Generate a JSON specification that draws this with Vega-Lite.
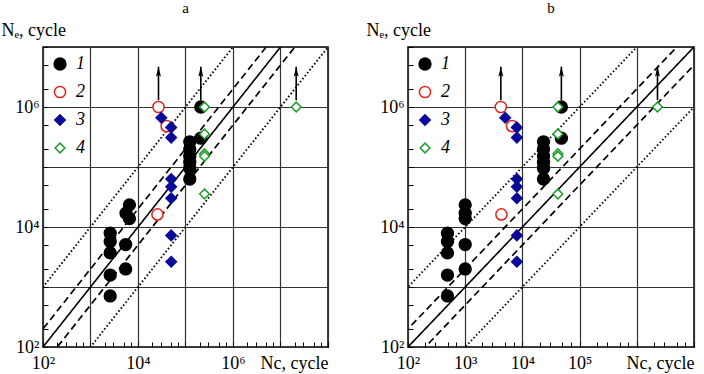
{
  "$schema": "https://vega.github.io/schema/vega-lite/v6.json",
  "padding": {"left": 0, "top": 0, "right": 4, "bottom": 0},
  "background": "white",
  "spacing": 35,
  "config": {
    "font": "Liberation Serif, Times New Roman, serif",
    "view": {"stroke": "black", "strokeWidth": 1.5},
    "axis": {
      "domain": false,
      "grid": true,
      "gridColor": "#333333",
      "gridWidth": 1.2,
      "gridOpacity": {"condition": {"test": "abs(log(datum.value) / LN10 - round(log(datum.value) / LN10)) < 0.000001", "value": 1}, "value": 0},
      "ticks": true,
      "tickColor": "black",
      "tickSize": -5,
      "tickWidth": 1,
      "labelFont": "Liberation Serif, Times New Roman, serif",
      "labelFontSize": 18,
      "labelColor": "black",
      "labelOverlap": false,
      "labelFlush": false,
      "titleFont": "Liberation Serif, Times New Roman, serif",
      "titleFontSize": 18,
      "titleFontWeight": "normal",
      "titleColor": "black"
    },
    "legend": {
      "orient": "top-left",
      "offset": 8,
      "padding": 0,
      "rowPadding": 10,
      "labelFont": "Liberation Serif, Times New Roman, serif",
      "labelFontSize": 18,
      "labelFontStyle": "italic",
      "labelColor": "black",
      "labelOffset": 7,
      "symbolStrokeWidth": 1.5
    },
    "title": {"font": "Liberation Serif, Times New Roman, serif", "fontSize": 15, "fontWeight": "normal", "color": "black", "offset": 5}
  },
  "datasets": {
    "obs": [
      {"series": "1", "nc_a": 2600, "nc_b": 490, "ne": 7900},
      {"series": "1", "nc_a": 2600, "nc_b": 490, "ne": 5750},
      {"series": "1", "nc_a": 2600, "nc_b": 490, "ne": 3700},
      {"series": "1", "nc_a": 2600, "nc_b": 490, "ne": 1580},
      {"series": "1", "nc_a": 2600, "nc_b": 490, "ne": 710},
      {"series": "1", "nc_a": 5500, "nc_b": 1000, "ne": 5100},
      {"series": "1", "nc_a": 5500, "nc_b": 1000, "ne": 2000},
      {"series": "1", "nc_a": 6600, "nc_b": 1000, "ne": 23400},
      {"series": "1", "nc_a": 5600, "nc_b": 1000, "ne": 17000},
      {"series": "1", "nc_a": 6600, "nc_b": 1000, "ne": 13800},
      {"series": "1", "nc_a": 210000, "nc_b": 48000, "ne": 1000000},
      {"series": "1", "nc_a": 210000, "nc_b": 48000, "ne": 302000},
      {"series": "1", "nc_a": 123000, "nc_b": 23400, "ne": 263000},
      {"series": "1", "nc_a": 123000, "nc_b": 23400, "ne": 200000},
      {"series": "1", "nc_a": 123000, "nc_b": 23400, "ne": 151000},
      {"series": "1", "nc_a": 123000, "nc_b": 23400, "ne": 120000},
      {"series": "1", "nc_a": 123000, "nc_b": 23400, "ne": 95500},
      {"series": "1", "nc_a": 123000, "nc_b": 23400, "ne": 63000},
      {"series": "2", "nc_a": 27000, "nc_b": 4200, "ne": 1000000},
      {"series": "2", "nc_a": 40000, "nc_b": 6600, "ne": 479000},
      {"series": "2", "nc_a": 25700, "nc_b": 4300, "ne": 16200},
      {"series": "3", "nc_a": 31000, "nc_b": 5000, "ne": 661000},
      {"series": "3", "nc_a": 50000, "nc_b": 8000, "ne": 457000},
      {"series": "3", "nc_a": 50000, "nc_b": 8000, "ne": 309000},
      {"series": "3", "nc_a": 50000, "nc_b": 8000, "ne": 63000},
      {"series": "3", "nc_a": 50000, "nc_b": 8000, "ne": 46800},
      {"series": "3", "nc_a": 50000, "nc_b": 8000, "ne": 30200},
      {"series": "3", "nc_a": 50000, "nc_b": 8000, "ne": 7240},
      {"series": "3", "nc_a": 50000, "nc_b": 8000, "ne": 2630},
      {"series": "4", "nc_a": 251000, "nc_b": 41700, "ne": 1000000},
      {"series": "4", "nc_a": 251000, "nc_b": 41700, "ne": 355000},
      {"series": "4", "nc_a": 251000, "nc_b": 41700, "ne": 166000},
      {"series": "4", "nc_a": 251000, "nc_b": 41700, "ne": 151000},
      {"series": "4", "nc_a": 251000, "nc_b": 41700, "ne": 35500},
      {"series": "4", "nc_a": 21400000, "nc_b": 2300000, "ne": 1000000}
    ],
    "refs": [
      {"ref": "r1", "style": "solid", "nc": 10, "ne": 10},
      {"ref": "r1", "style": "solid", "nc": 1000000000, "ne": 1000000000},
      {"ref": "r2", "style": "dashed", "nc": 10, "ne": 20},
      {"ref": "r2", "style": "dashed", "nc": 1000000000, "ne": 2000000000},
      {"ref": "r3", "style": "dashed", "nc": 20, "ne": 10},
      {"ref": "r3", "style": "dashed", "nc": 2000000000, "ne": 1000000000},
      {"ref": "r4", "style": "dotted", "nc": 10, "ne": 100},
      {"ref": "r4", "style": "dotted", "nc": 1000000000, "ne": 10000000000},
      {"ref": "r5", "style": "dotted", "nc": 100, "ne": 10},
      {"ref": "r5", "style": "dotted", "nc": 10000000000, "ne": 1000000000}
    ],
    "runouts": [
      {"nc_a": 27000, "nc_b": 4200, "lo": 1300000, "hi": 4700000},
      {"nc_a": 210000, "nc_b": 48000, "lo": 1300000, "hi": 4700000},
      {"nc_a": 21400000, "nc_b": 2300000, "lo": 1300000, "hi": 4700000}
    ]
  },
  "hconcat": [
    {
      "width": 285,
      "height": 300,
      "title": "a",
      "layer": [
        {
          "data": {"name": "refs"},
          "mark": {"type": "line", "clip": true, "color": "black"},
          "encoding": {
            "x": {
              "field": "nc", "type": "quantitative",
              "scale": {"type": "log", "domain": [100, 100000000], "nice": false},
              "axis": {
                "values": [100, 200, 300, 500, 700, 1000, 2000, 3000, 5000, 7000, 10000, 20000, 30000, 50000, 70000, 100000, 200000, 300000, 500000, 700000, 1000000, 2000000, 3000000, 5000000, 7000000, 10000000, 20000000, 30000000, 50000000, 70000000, 100000000],
                "labelExpr": "datum.value == 100 ? '10²' : datum.value == 10000 ? '10⁴' : datum.value == 1000000 ? '10⁶' : ''",
                "labelPadding": 12,
                "title": "Nc, cycle",
                "titleX": 285, "titleY": 21, "titleAlign": "right", "titleBaseline": "alphabetic", "titleAnchor": null
              }
            },
            "y": {
              "field": "ne", "type": "quantitative",
              "scale": {"type": "log", "domain": [100, 10000000], "nice": false},
              "axis": {
                "values": [100, 200, 500, 1000, 2000, 5000, 10000, 20000, 50000, 100000, 200000, 500000, 1000000, 2000000, 5000000, 10000000],
                "labelExpr": "datum.value == 100 ? '10²' : datum.value == 10000 ? '10⁴' : datum.value == 1000000 ? '10⁶' : ''",
                "labelPadding": 9,
                "title": "Nₑ, cycle",
                "titleAngle": 0, "titleX": -42, "titleY": -12, "titleAlign": "left", "titleBaseline": "alphabetic", "titleAnchor": null
              }
            },
            "detail": {"field": "ref"},
            "strokeDash": {"field": "style", "type": "nominal", "scale": {"domain": ["solid", "dashed", "dotted"], "range": [[1, 0], [7, 4], [1.6, 2.2]]}, "legend": null},
            "strokeWidth": {"field": "style", "type": "nominal", "scale": {"domain": ["solid", "dashed", "dotted"], "range": [1.6, 1.8, 2.1]}, "legend": null}
          }
        },
        {
          "data": {"name": "runouts"},
          "mark": {"type": "rule", "color": "black", "strokeWidth": 1.6},
          "encoding": {
            "x": {"field": "nc_a", "type": "quantitative"},
            "y": {"field": "lo", "type": "quantitative"},
            "y2": {"field": "hi"}
          }
        },
        {
          "data": {"name": "runouts"},
          "mark": {"type": "point", "shape": "M0,0L0.5,2L0,1.6L-0.5,2Z", "size": 100, "filled": true, "color": "black", "opacity": 1},
          "encoding": {
            "x": {"field": "nc_a", "type": "quantitative"},
            "y": {"field": "hi", "type": "quantitative"}
          }
        },
        {
          "data": {"name": "obs"},
          "mark": {"type": "point", "strokeWidth": 1.5, "opacity": 1},
          "encoding": {
            "x": {"field": "nc_a", "type": "quantitative"},
            "y": {"field": "ne", "type": "quantitative"},
            "shape": {"field": "series", "type": "nominal", "scale": {"domain": ["1", "2", "3", "4"], "range": ["circle", "circle", "diamond", "diamond"]}, "legend": {"title": null}},
            "fill": {"field": "series", "type": "nominal", "scale": {"domain": ["1", "2", "3", "4"], "range": ["#000000", "#ffffff", "#0a0a9a", "#ffffff"]}, "legend": {"title": null}},
            "stroke": {"field": "series", "type": "nominal", "scale": {"domain": ["1", "2", "3", "4"], "range": ["#000000", "#e2231a", "#0a0a9a", "#1f9e2a"]}, "legend": {"title": null}},
            "size": {"field": "series", "type": "nominal", "scale": {"domain": ["1", "2", "3", "4"], "range": [140, 95, 140, 110]}, "legend": {"title": null}}
          }
        }
      ]
    },
    {
      "width": 286,
      "height": 300,
      "title": "b",
      "layer": [
        {
          "data": {"name": "refs"},
          "mark": {"type": "line", "clip": true, "color": "black"},
          "encoding": {
            "x": {
              "field": "nc", "type": "quantitative",
              "scale": {"type": "log", "domain": [100, 10000000], "nice": false},
              "axis": {
                "values": [100, 200, 300, 500, 700, 1000, 2000, 3000, 5000, 7000, 10000, 20000, 30000, 50000, 70000, 100000, 200000, 300000, 500000, 700000, 1000000, 2000000, 3000000, 5000000, 7000000, 10000000],
                "labelExpr": "datum.value == 100 ? '10²' : datum.value == 1000 ? '10³' : datum.value == 10000 ? '10⁴' : datum.value == 100000 ? '10⁵' : ''",
                "labelPadding": 12,
                "title": "Nc, cycle",
                "titleX": 286, "titleY": 21, "titleAlign": "right", "titleBaseline": "alphabetic", "titleAnchor": null
              }
            },
            "y": {
              "field": "ne", "type": "quantitative",
              "scale": {"type": "log", "domain": [100, 10000000], "nice": false},
              "axis": {
                "values": [100, 200, 500, 1000, 2000, 5000, 10000, 20000, 50000, 100000, 200000, 500000, 1000000, 2000000, 5000000, 10000000],
                "labelExpr": "datum.value == 100 ? '10²' : datum.value == 10000 ? '10⁴' : datum.value == 1000000 ? '10⁶' : ''",
                "labelPadding": 9,
                "title": "Nₑ, cycle",
                "titleAngle": 0, "titleX": -42, "titleY": -12, "titleAlign": "left", "titleBaseline": "alphabetic", "titleAnchor": null
              }
            },
            "detail": {"field": "ref"},
            "strokeDash": {"field": "style", "type": "nominal", "scale": {"domain": ["solid", "dashed", "dotted"], "range": [[1, 0], [7, 4], [1.6, 2.2]]}, "legend": null},
            "strokeWidth": {"field": "style", "type": "nominal", "scale": {"domain": ["solid", "dashed", "dotted"], "range": [1.6, 1.8, 2.1]}, "legend": null}
          }
        },
        {
          "data": {"name": "runouts"},
          "mark": {"type": "rule", "color": "black", "strokeWidth": 1.6},
          "encoding": {
            "x": {"field": "nc_b", "type": "quantitative"},
            "y": {"field": "lo", "type": "quantitative"},
            "y2": {"field": "hi"}
          }
        },
        {
          "data": {"name": "runouts"},
          "mark": {"type": "point", "shape": "M0,0L0.5,2L0,1.6L-0.5,2Z", "size": 100, "filled": true, "color": "black", "opacity": 1},
          "encoding": {
            "x": {"field": "nc_b", "type": "quantitative"},
            "y": {"field": "hi", "type": "quantitative"}
          }
        },
        {
          "data": {"name": "obs"},
          "mark": {"type": "point", "strokeWidth": 1.5, "opacity": 1},
          "encoding": {
            "x": {"field": "nc_b", "type": "quantitative"},
            "y": {"field": "ne", "type": "quantitative"},
            "shape": {"field": "series", "type": "nominal", "scale": {"domain": ["1", "2", "3", "4"], "range": ["circle", "circle", "diamond", "diamond"]}, "legend": {"title": null}},
            "fill": {"field": "series", "type": "nominal", "scale": {"domain": ["1", "2", "3", "4"], "range": ["#000000", "#ffffff", "#0a0a9a", "#ffffff"]}, "legend": {"title": null}},
            "stroke": {"field": "series", "type": "nominal", "scale": {"domain": ["1", "2", "3", "4"], "range": ["#000000", "#e2231a", "#0a0a9a", "#1f9e2a"]}, "legend": {"title": null}},
            "size": {"field": "series", "type": "nominal", "scale": {"domain": ["1", "2", "3", "4"], "range": [140, 95, 140, 110]}, "legend": {"title": null}}
          }
        }
      ]
    }
  ],
  "resolve": {
    "scale": {"x": "independent", "y": "independent", "shape": "independent", "fill": "independent", "stroke": "independent", "size": "independent", "strokeDash": "independent", "strokeWidth": "independent"},
    "legend": {"shape": "independent", "fill": "independent", "stroke": "independent", "size": "independent"}
  }
}
